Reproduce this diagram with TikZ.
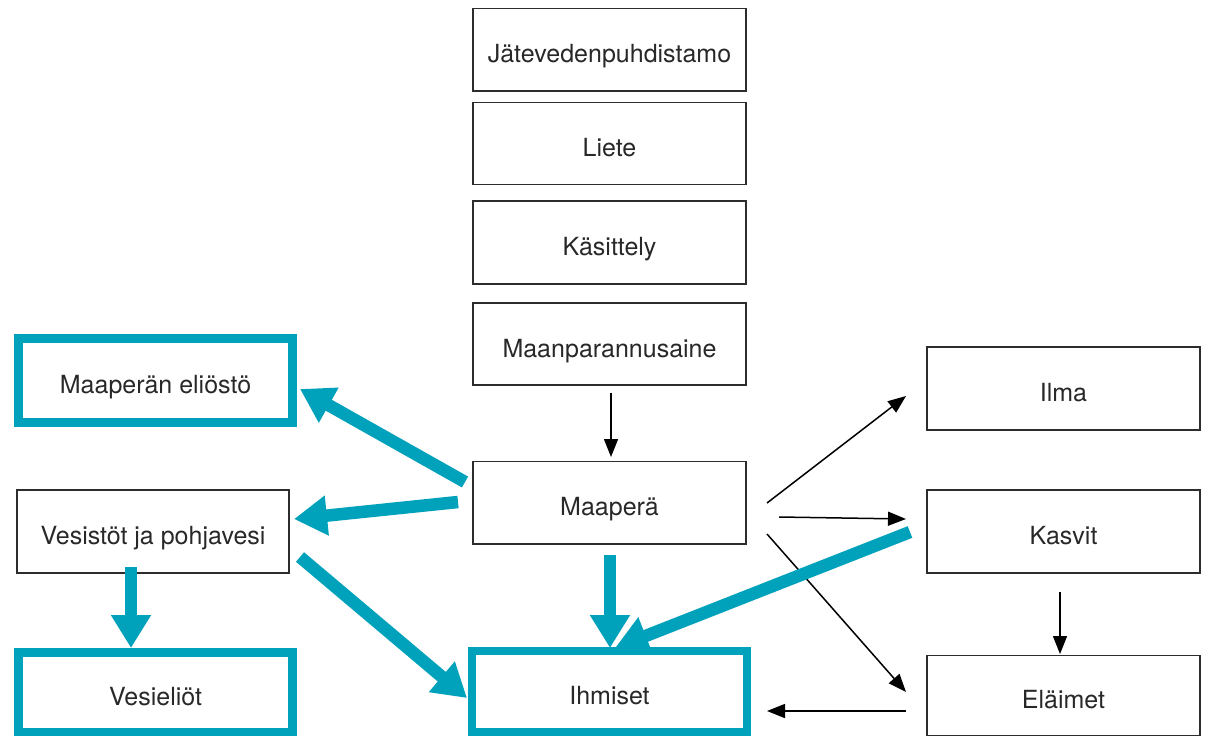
\documentclass[tikz,border=0pt]{standalone}
\usepackage{fontspec}
\setmainfont{TeX Gyre Heros}
\usetikzlibrary{arrows.meta}
\definecolor{teal}{RGB}{0,161,187}
\definecolor{boxline}{RGB}{45,45,45}
\definecolor{txt}{RGB}{40,40,40}
\begin{document}
\begin{tikzpicture}[x=1pt,y=-1pt,
  plainbox/.style={draw=boxline,line width=1.8pt,rectangle,inner sep=0pt,outer sep=0pt,
    minimum width=273pt,minimum height=82pt,text=txt,font=\fontsize{25}{28}\selectfont,
    text height=26pt,text depth=0pt},
  tealbox/.style={plainbox,draw=teal,line width=8.5pt,minimum width=274pt},
  thinarrow/.style={draw=black,line width=1.5pt,-{Triangle[length=18pt,width=14pt]}},
  tealarrow/.style={draw=teal,line width=12.5pt,-{Triangle[length=33pt,width=38pt]},color=teal}]
\useasboundingbox (0,0) rectangle (1206,736);
% column boxes
\node[plainbox,minimum height=82.5pt] (jat) at (609.5,49.75) {Jätevedenpuhdistamo};
\node[plainbox] (liete) at (609.5,143.5) {Liete};
\node[plainbox,minimum height=83pt] (kas) at (609.5,242.5) {Käsittely};
\node[plainbox] (maanp) at (609.5,344) {Maanparannusaine};
\node[plainbox,minimum height=82.5pt] (maa) at (609.5,502.75) {Maaperä};
\node[tealbox,minimum width=275pt,minimum height=81pt] (ihm) at (609.5,691.5) {Ihmiset};
% left
\node[tealbox,minimum height=84pt] (elio) at (155.5,380.5) {Maaperän eliöstö};
\node[plainbox,minimum width=272pt,minimum height=83pt] (ves) at (153,531.5) {Vesistöt ja pohjavesi};
\node[tealbox,minimum height=79.5pt] (vesiel) at (155.5,692.25) {Vesieliöt};
% right
\node[plainbox,minimum height=83pt] (ilma) at (1063.5,388.5) {Ilma};
\node[plainbox,minimum height=83pt] (kasvit) at (1063.5,531.5) {Kasvit};
\node[plainbox,minimum height=80pt] (elaimet) at (1063.5,695.5) {Eläimet};
% connector end points
\coordinate (m1) at (611,393);
\coordinate (m2) at (611,457);
\coordinate (i1) at (767,503);
\coordinate (i2) at (906,396);
\coordinate (k1) at (779,517);
\coordinate (k2) at (906,519);
\coordinate (e1) at (767,534);
\coordinate (e2) at (906,692);
\coordinate (ke1) at (1060,592);
\coordinate (ke2) at (1060,654);
\coordinate (ei1) at (906,711);
\coordinate (ei2) at (767,711);
\coordinate (t1a) at (465,482);
\coordinate (t1b) at (300,389);
\coordinate (t2a) at (458,502);
\coordinate (t2b) at (294,519);
\coordinate (t3a) at (300,557);
\coordinate (t3b) at (467,698);
\coordinate (t4a) at (131,567);
\coordinate (t4b) at (131,648);
\coordinate (t5a) at (610,555);
\coordinate (t5b) at (610,648);
\coordinate (t6a) at (910,532);
\coordinate (t6b) at (615,648);
% thin connectors
\draw[thinarrow] (m1) -- (m2);
\draw[thinarrow] (i1) -- (i2);
\draw[thinarrow] (k1) -- (k2);
\draw[thinarrow] (e1) -- (e2);
\draw[thinarrow] (ke1) -- (ke2);
\draw[thinarrow] (ei1) -- (ei2);
% teal connectors
\draw[tealarrow] (t1a) -- (t1b);
\draw[tealarrow] (t2a) -- (t2b);
\draw[tealarrow] (t3a) -- (t3b);
\draw[tealarrow] (t4a) -- (t4b);
\draw[tealarrow] (t5a) -- (t5b);
\draw[tealarrow] (t6a) -- (t6b);
\end{tikzpicture}
\end{document}
